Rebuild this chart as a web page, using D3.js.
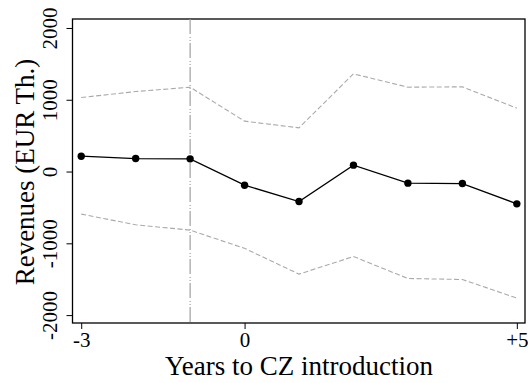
<!DOCTYPE html>
<html>
<head>
<meta charset="utf-8">
<script src="https://cdn.jsdelivr.net/npm/d3@7"></script>
<style>
  html, body { margin: 0; padding: 0; background: #fff; }
  svg { display: block; }
  svg text { font-family: "Liberation Serif", "Times New Roman", Times, "DejaVu Serif", serif !important; fill: #000; }
</style>
</head>
<body>
<svg id="chart" width="528" height="383"></svg>
<script>
const years = [-3, -2, -1, 0, 1, 2, 3, 4, 5];
const estimate = [214, 181, 177, -190, -418, 89, -162, -167, -450];
const upperCI = [1031, 1114, 1175, 702, 609, 1361, 1175, 1180, 883];
const lowerCI = [-593, -742, -816, -1070, -1429, -1184, -1490, -1504, -1763];
const xTicks = [-3, 0, 5];
const xTickLabels = ["-3", "0", "+5"];
const yTicks = [-2000, -1000, 0, 1000, 2000];
const yTickLabels = ["-2000", "-1000", "0", "1000", "2000"];
const refYear = -1;

const FONT = "'Liberation Serif', 'Times New Roman', Times, 'DejaVu Serif', serif";
const svg = d3.select("#chart");
const L = 72.5, R = 525, T = 19, B = 323;

const x = d3.scaleLinear().domain([-3.16, 5.15]).range([L, R]);
const y = d3.scaleLinear().domain([-2110, 2125]).range([B, T]);

// plot frame
svg.append("rect")
  .attr("x", L).attr("y", T).attr("width", R - L).attr("height", B - T)
  .attr("fill", "none").attr("stroke", "#000").attr("stroke-width", 1.3);

// reference vertical line
svg.append("line")
  .attr("x1", x(refYear)).attr("x2", x(refYear))
  .attr("y1", T).attr("y2", B)
  .attr("stroke", "#a0a0a0").attr("stroke-width", 1.2)
  .attr("stroke-dasharray", "15,3,1,2,1,2");

const line = d3.line().x((d, i) => x(years[i])).y(d => y(d));

// CI lines
[upperCI, lowerCI].forEach(ci => {
  svg.append("path")
    .attr("d", line(ci))
    .attr("fill", "none")
    .attr("stroke", "#aaaaaa")
    .attr("stroke-width", 1.1)
    .attr("stroke-dasharray", "5,2.5");
});

// estimate line
svg.append("path")
  .attr("d", line(estimate))
  .attr("fill", "none")
  .attr("stroke", "#000")
  .attr("stroke-width", 1.3);

svg.selectAll("circle.pt")
  .data(estimate)
  .enter().append("circle")
  .attr("class", "pt")
  .attr("cx", (d, i) => x(years[i]))
  .attr("cy", d => y(d))
  .attr("r", 3.7)
  .attr("fill", "#000");

// x axis
const xAxis = d3.axisBottom(x)
  .tickValues(xTicks)
  .tickFormat((d, i) => xTickLabels[i])
  .tickSize(6)
  .tickSizeOuter(0);
const gx = svg.append("g").attr("transform", `translate(0,${B})`).call(xAxis)
  .attr("font-family", FONT).attr("font-size", 21);
gx.select(".domain").remove();
gx.selectAll(".tick line").attr("stroke", "#000").attr("stroke-width", 1);
gx.selectAll(".tick text")
  .attr("y", 24).attr("dy", 0);

// y axis
const yAxis = d3.axisLeft(y)
  .tickValues(yTicks)
  .tickFormat((d, i) => yTickLabels[i])
  .tickSize(6)
  .tickSizeOuter(0);
const gy = svg.append("g").attr("transform", `translate(${L},0)`).call(yAxis)
  .attr("font-family", FONT).attr("font-size", 21);
gy.select(".domain").remove();
gy.selectAll(".tick line").attr("stroke", "#000").attr("stroke-width", 1);
gy.selectAll(".tick text")
  .attr("transform", "rotate(-90)")
  .attr("x", 0).attr("y", -16).attr("dy", 0)
  .attr("text-anchor", "middle");

// axis titles
svg.append("text")
  .attr("x", 299).attr("y", 375)
  .attr("text-anchor", "middle")
  .attr("font-family", FONT)
  .attr("font-size", 27)
  .text("Years to CZ introduction");

svg.append("text")
  .attr("transform", "translate(34,172) rotate(-90)")
  .attr("text-anchor", "middle")
  .attr("font-family", FONT)
  .attr("font-size", 27)
  .text("Revenues (EUR Th.)");
</script>
</body>
</html>
